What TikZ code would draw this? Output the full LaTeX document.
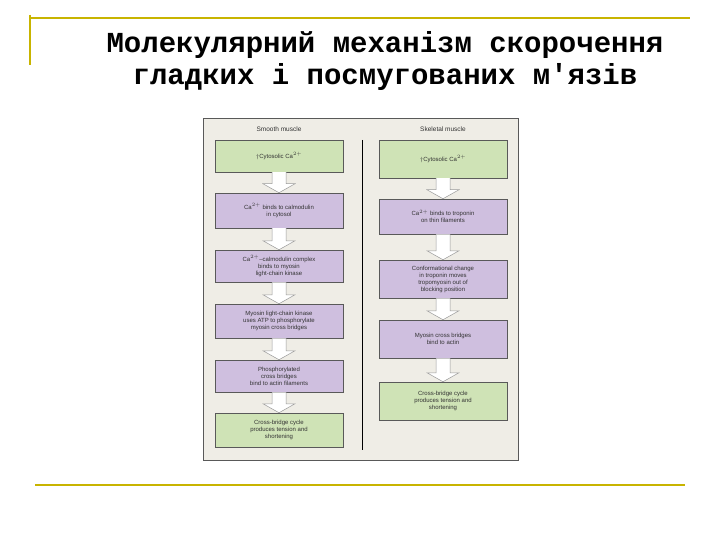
\documentclass[tikz,border=0pt]{standalone}
\usepackage{fontspec}
\usetikzlibrary{calc}
\setmainfont{Liberation Sans}
\newfontfamily\titlefont{Liberation Mono}
\definecolor{gold}{HTML}{C8B400}
\definecolor{panel}{HTML}{EFEDE6}
\definecolor{gbox}{HTML}{CFE3B6}
\definecolor{pbox}{HTML}{CFBFDF}
\begin{document}
\begin{tikzpicture}[x=1pt,y=-1pt,
  box/.style={draw=gray!70!black,line width=0.5pt,minimum width=128pt,align=center,inner sep=1pt,font=\fontsize{6}{7}\selectfont,text=black!80},
  gb/.style={box,fill=gbox},
  pb/.style={box,fill=pbox},
  hdr/.style={font=\fontsize{6.5}{7.5}\selectfont,text=black!80},
  blk/.style={draw=gray!80,fill=white,line width=0.5pt}]
\useasboundingbox (0,0) rectangle (720,540);
\fill[white] (0,0) rectangle (720,540);
\draw[gold,line width=1.5pt] (30,15) -- (30,65);
\draw[gold,line width=1.5pt] (30,18) -- (690,18);
\draw[gold,line width=1.5pt] (35,485) -- (685,485);
\node[font=\titlefont\bfseries\fontsize{29}{32}\selectfont,align=center] (title) at (385,61) {Молекулярний механізм скорочення\\гладких і посмугованих м'язів};
\draw[gray!70!black,fill=panel,line width=0.6pt] (203,118) rectangle (518,460);
\node[hdr] (h1) at (279,129) {Smooth muscle};
\node[hdr] (h2) at (443,129) {Skeletal muscle};
\coordinate (d1) at (362,140); \coordinate (d2) at (362,450);
\draw[line width=1pt] (d1) -- (d2);
\node[gb,minimum height=32pt] (l1) at (279,156) {$\dagger$Cytosolic Ca$^{2+}$};
\node[pb,minimum height=35pt] (l2) at (279,210.5) {Ca$^{2+}$ binds to calmodulin\\in cytosol};
\node[pb,minimum height=32pt] (l3) at (279,266) {Ca$^{2+}$–calmodulin complex\\binds to myosin\\light-chain kinase};
\node[pb,minimum height=34pt] (l4) at (279,321) {Myosin light-chain kinase\\uses ATP to phosphorylate\\myosin cross bridges};
\node[pb,minimum height=32pt] (l5) at (279,376) {Phosphorylated\\cross bridges\\bind to actin filaments};
\node[gb,minimum height=34pt] (l6) at (279,430) {Cross-bridge cycle\\produces tension and\\shortening};
\node[gb,minimum height=38pt] (r1) at (443,159) {$\dagger$Cytosolic Ca$^{2+}$};
\node[pb,minimum height=35pt] (r2) at (443,216.5) {Ca$^{2+}$ binds to troponin\\on thin filaments};
\node[pb,minimum height=38pt] (r3) at (443,279) {Conformational change\\in troponin moves\\tropomyosin out of\\blocking position};
\node[pb,minimum height=38pt] (r4) at (443,339) {Myosin cross bridges\\bind to actin};
\node[gb,minimum height=38pt] (r5) at (443,401) {Cross-bridge cycle\\produces tension and\\shortening};
\foreach \a/\b in {l1/l2,l2/l3,l3/l4,l4/l5,l5/l6,r1/r2,r2/r3,r3/r4,r4/r5}{
  \draw[blk] ($(\a.south)+(-7,0)$) -- ($(\b.north)+(-7,-9)$) -- ($(\b.north)+(-16,-9)$) -- (\b.north) -- ($(\b.north)+(16,-9)$) -- ($(\b.north)+(7,-9)$) -- ($(\a.south)+(7,0)$);
}
\end{tikzpicture}
\end{document}
